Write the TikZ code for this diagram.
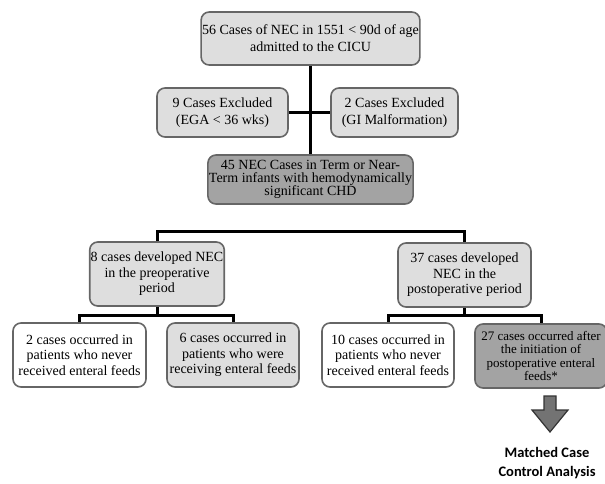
\documentclass[tikz,border=0pt]{standalone}
\usepackage{fontspec}
\setmainfont{Liberation Serif}
\newfontfamily\calib{Carlito}
\usetikzlibrary{arrows.meta}

\begin{document}
\begin{tikzpicture}[
    x=1pt, y=-1pt,
    every node/.style={align=center, inner sep=1pt, font=\fontsize{14}{15.5}\selectfont},
    box/.style={draw=frm, line width=1.6pt, rounded corners=8pt,
        minimum width=132pt, minimum height=64pt},
    wire/.style={line width=3pt, black}
]
\colorlet{lite}{black!13}
\colorlet{dark}{black!36}
\colorlet{frm}{black!60}
\colorlet{arrfill}{black!55}
\colorlet{arrline}{black!80}

    \useasboundingbox (0,0) rectangle (605,483);

    \node[box, fill=lite, minimum width=216pt, minimum height=53pt,
        font=\fontsize{14}{17}\selectfont] (top) at (310.5,38.5)
        {56 Cases of NEC in 1551 < 90d of age\\admitted to the CICU};
    \node[box, fill=lite, minimum width=131pt, minimum height=49pt,
        font=\fontsize{14}{17}\selectfont] (exga) at (222.5,112.5)
        {9 Cases Excluded\\(EGA < 36 wks)};
    \node[box, fill=lite, minimum width=127pt, minimum height=49pt,
        font=\fontsize{14}{17}\selectfont] (exgi) at (394.5,112.5)
        {2 Cases Excluded\\(GI Malformation)};
    \node[box, fill=dark, minimum width=197pt, minimum height=49pt,
        font=\fontsize{14}{13}\selectfont] (chd) at (310.5,179.5)
        {45 NEC Cases in Term or Near-\\Term infants with hemodynamically\\significant CHD};

    \node[box, fill=lite] (pre) at (157,274)
        {8 cases developed NEC\\in the preoperative\\period};
    \node[box, fill=lite, minimum width=133pt] (post) at (464.5,275)
        {37 cases developed\\NEC in the\\postoperative period};

    \node[box, fill=white, minimum width=133pt] (nevpre) at (79.5,355)
        {2 cases occurred in\\patients who never\\received enteral feeds};
    \node[box, fill=lite] (fedpre) at (233,355)
        {6 cases occurred in\\patients who were\\receiving enteral feeds};
    \node[box, fill=white] (nevpost) at (388,355)
        {10 cases occurred in\\patients who never\\received enteral feeds};
    \node[box, fill=dark, font=\fontsize{13}{13.5}\selectfont] (fedpost) at (541,356)
        {27 cases occurred after\\the initiation of\\postoperative enteral\\feeds*};

    \coordinate (split) at (310.5,231);
    \coordinate (pfork) at (157,315);
    \coordinate (qfork) at (464.5,315);

    \draw[wire] (top) -- (chd);
    \draw[wire] (exga) -- (exgi);
    \draw[wire] (pre.north) |- (split) -| (post.north);
    \draw[wire] (pre) -- (pfork);
    \draw[wire] (nevpre.north) |- (pfork) -| (fedpre.north);
    \draw[wire] (post) -- (qfork);
    \draw[wire] (nevpost.north) |- (qfork) -| (fedpost.north);

    % block arrow to the analysis
    \coordinate (tip) at (550,432);
    \filldraw[fill=arrfill, draw=arrline, line width=1.2pt]
        (544,396) -- (556,396) -- (556,410) -- (568,410) -- (tip)
        -- (532,410) -- (544,410) -- cycle;

    \node[font=\calib\bfseries\fontsize{14.5}{19}\selectfont] (match) at (547,463)
        {Matched Case\\Control Analysis};
\end{tikzpicture}
\end{document}
